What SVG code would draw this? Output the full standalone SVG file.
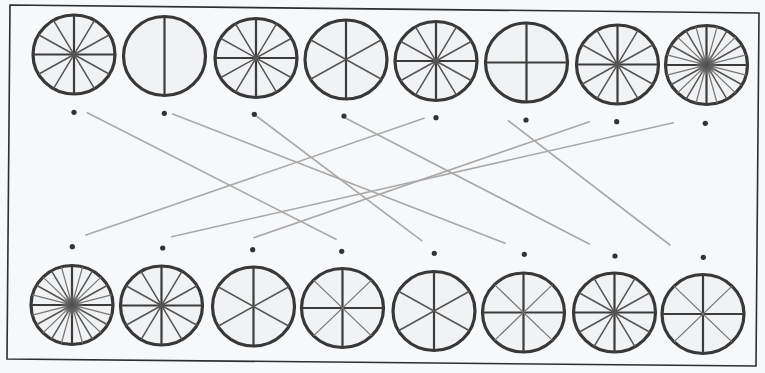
<svg xmlns="http://www.w3.org/2000/svg" xmlns:xlink="http://www.w3.org/1999/xlink" width="765" height="373" viewBox="0 0 765 373">
<style>
.rim{fill:#f1f2f4;stroke:#383838;stroke-width:3.2}
.main{stroke:#3c3c3c;stroke-width:2.2;fill:none}
.minor{stroke:#555;stroke-width:1.5;fill:none}
.thin{stroke:#777;stroke-width:1.3;fill:none}
.dot{fill:#333}
.link{stroke:#a9a9a9;stroke-width:1.6;fill:none;stroke-linecap:round}
</style>
<defs>
<radialGradient id="hub" r="0.5">
<stop offset="0" stop-color="#4a4a4a"/>
<stop offset="0.6" stop-color="#666" stop-opacity="0.85"/>
<stop offset="1" stop-color="#999" stop-opacity="0"/>
</radialGradient>
<g id="w2">
<ellipse class="rim" rx="41" ry="39.5"/>
<path class="main" d="M0,-39.5V39.5"/>
</g>
<g id="w4">
<ellipse class="rim" rx="41" ry="39.5"/>
<path class="main" d="M0,-39.5V39.5M-41,0H41"/>
</g>
<g id="w6">
<ellipse class="rim" rx="41" ry="39.5"/>
<path class="main" d="M0,-39.5V39.5"/>
<path class="minor" d="M-35.5,-19.75L35.5,19.75M-35.5,19.75L35.5,-19.75"/>
</g>
<g id="w8">
<ellipse class="rim" rx="41" ry="39.5"/>
<path class="main" d="M0,-39.5V39.5M-41,0H41"/>
<path class="thin" d="M-29,-27.9L29,27.9M-29,27.9L29,-27.9"/>
</g>
<g id="w12">
<ellipse class="rim" rx="41" ry="39.5"/>
<path class="main" d="M0,-39.5V39.5M-41,0H41"/>
<path class="minor" d="M-35.5,-19.75L35.5,19.75M-20.5,-34.2L20.5,34.2M-35.5,19.75L35.5,-19.75M-20.5,34.2L20.5,-34.2"/>
<circle r="3" fill="#555"/>
</g>
<g id="w24">
<ellipse class="rim" rx="41" ry="39.5"/>
<path class="main" d="M0,-39.5V39.5M-41,0H41"/>
<path class="minor" d="M-35.5,-19.75L35.5,19.75M-20.5,-34.2L20.5,34.2M-35.5,19.75L35.5,-19.75M-20.5,34.2L20.5,-34.2"/>
<path class="thin" d="M-39.6,-10.2L39.6,10.2M-29,-27.9L29,27.9M-10.6,-38.2L10.6,38.2M-39.6,10.2L39.6,-10.2M-29,27.9L29,-27.9M-10.6,38.2L10.6,-38.2"/>
<circle r="11" fill="url(#hub)"/>
</g>
</defs>
<rect width="765" height="373" fill="#f7f8fa"/>
<polygon points="10,5 759,13 756,366 7,359" fill="none" stroke="#2e2e2e" stroke-width="1.6"/>
<g id="connectors">
<line class="link" x1="87.3" y1="112.7" x2="336" y2="239.3"/>
<line class="link" x1="172.7" y1="114" x2="505" y2="243.3"/>
<line class="link" x1="255" y1="115" x2="421.7" y2="240.7"/>
<line class="link" x1="343" y1="116.7" x2="589.3" y2="244"/>
<line class="link" x1="424" y1="118.3" x2="86" y2="235"/>
<line class="link" x1="508.3" y1="120.7" x2="670" y2="245"/>
<line class="link" x1="589.3" y1="121.7" x2="254" y2="237.7"/>
<line class="link" x1="673.3" y1="122.7" x2="171.7" y2="236.7"/>
</g>
<g id="top-1"><use xlink:href="#w12" transform="translate(74,54.5)"/><circle class="dot" cx="74" cy="112.3" r="2.6"/></g>
<g id="top-2"><use xlink:href="#w2" transform="translate(164.5,56)"/><circle class="dot" cx="164.3" cy="113.3" r="2.6"/></g>
<g id="top-3"><use xlink:href="#w12" transform="translate(256,58)"/><circle class="dot" cx="254.3" cy="114.3" r="2.6"/></g>
<g id="top-4"><use xlink:href="#w6" transform="translate(346,59.5)"/><circle class="dot" cx="344" cy="116" r="2.6"/></g>
<g id="top-5"><use xlink:href="#w12" transform="translate(436,61)"/><circle class="dot" cx="436" cy="117.7" r="2.6"/></g>
<g id="top-6"><use xlink:href="#w4" transform="translate(526.5,62.5)"/><circle class="dot" cx="526" cy="120" r="2.6"/></g>
<g id="top-7"><use xlink:href="#w12" transform="translate(617.5,64.5)"/><circle class="dot" cx="616.7" cy="121.7" r="2.6"/></g>
<g id="top-8"><use xlink:href="#w24" transform="translate(706.5,65)"/><circle class="dot" cx="705.3" cy="123.3" r="2.6"/></g>
<g id="bottom-1"><use xlink:href="#w24" transform="translate(72,305)"/><circle class="dot" cx="72.3" cy="246.7" r="2.6"/></g>
<g id="bottom-2"><use xlink:href="#w12" transform="translate(161.5,305.5)"/><circle class="dot" cx="162.7" cy="248" r="2.6"/></g>
<g id="bottom-3"><use xlink:href="#w6" transform="translate(253.5,306.5)"/><circle class="dot" cx="252.7" cy="249.7" r="2.6"/></g>
<g id="bottom-4"><use xlink:href="#w8" transform="translate(342.5,308)"/><circle class="dot" cx="341.7" cy="251.3" r="2.6"/></g>
<g id="bottom-5"><use xlink:href="#w6" transform="translate(434,311)"/><circle class="dot" cx="434.3" cy="253.3" r="2.6"/></g>
<g id="bottom-6"><use xlink:href="#w8" transform="translate(523.5,312.5)"/><circle class="dot" cx="524.3" cy="254.3" r="2.6"/></g>
<g id="bottom-7"><use xlink:href="#w12" transform="translate(614.5,312.5)"/><circle class="dot" cx="615" cy="256" r="2.6"/></g>
<g id="bottom-8"><use xlink:href="#w8" transform="translate(703,314)"/><circle class="dot" cx="703.3" cy="257.3" r="2.6"/></g>
</svg>
